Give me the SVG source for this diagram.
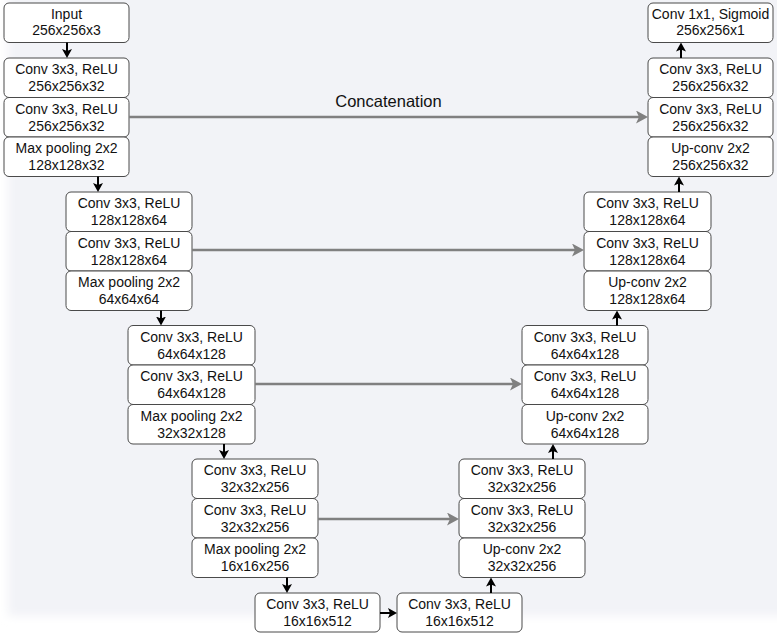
<svg xmlns="http://www.w3.org/2000/svg" width="777" height="635" viewBox="0 0 777 635">
<defs>
<filter id="soft" x="-5%" y="-5%" width="110%" height="110%"><feGaussianBlur stdDeviation="5"/></filter>
<marker id="ab" markerUnits="userSpaceOnUse" viewBox="0 0 9 10" markerWidth="9" markerHeight="10" refX="6" refY="5" orient="auto"><path d="M0,0 L9,5 L0,10 L2,5 z" fill="#000"/></marker>
<marker id="ag" markerUnits="userSpaceOnUse" viewBox="0 0 12 13" markerWidth="12" markerHeight="13" refX="8" refY="6.5" orient="auto"><path d="M0,0 L12,6.5 L0,13 L3,6.5 z" fill="#808080"/></marker>
</defs>
<style>
.b{fill:#fff;stroke:#4a4a4a;stroke-width:1}
text{font-family:"Liberation Sans",Arial,Helvetica,sans-serif;font-size:14px;fill:#111;text-anchor:middle}
.k{stroke:#000;stroke-width:2;fill:none;marker-end:url(#ab)}
.g{stroke:#808080;stroke-width:2.5;fill:none;marker-end:url(#ag)}
</style>
<rect width="777" height="635" fill="#fff"/>
<rect x="8" y="-20" width="790" height="636" fill="#f2f3f7" filter="url(#soft)"/>

<g id="input"><rect class="b" x="4" y="3" width="125" height="39.5" rx="5"/><text x="66.5" y="19">Input</text><text x="66.5" y="35">256x256x3</text></g>
<g id="enc1a"><rect class="b" x="4" y="58" width="125" height="39.5" rx="5"/><text x="66.5" y="74">Conv 3x3, ReLU</text><text x="66.5" y="91">256x256x32</text></g>
<g id="enc1b"><rect class="b" x="4" y="97.5" width="125" height="39.5" rx="5"/><text x="66.5" y="113.5">Conv 3x3, ReLU</text><text x="66.5" y="130.5">256x256x32</text></g>
<g id="pool1"><rect class="b" x="4" y="137" width="125" height="39.5" rx="5"/><text x="66.5" y="153">Max pooling 2x2</text><text x="66.5" y="170">128x128x32</text></g>

<g id="enc2a"><rect class="b" x="66" y="192" width="126" height="39.5" rx="5"/><text x="129" y="208">Conv 3x3, ReLU</text><text x="129" y="225">128x128x64</text></g>
<g id="enc2b"><rect class="b" x="66" y="231.5" width="126" height="39.5" rx="5"/><text x="129" y="247.5">Conv 3x3, ReLU</text><text x="129" y="264.5">128x128x64</text></g>
<g id="pool2"><rect class="b" x="66" y="271" width="126" height="39.5" rx="5"/><text x="129" y="287">Max pooling 2x2</text><text x="129" y="304">64x64x64</text></g>

<g id="enc3a"><rect class="b" x="128" y="325.5" width="127" height="39.5" rx="5"/><text x="191.5" y="341.5">Conv 3x3, ReLU</text><text x="191.5" y="358.5">64x64x128</text></g>
<g id="enc3b"><rect class="b" x="128" y="365" width="127" height="39.5" rx="5"/><text x="191.5" y="381">Conv 3x3, ReLU</text><text x="191.5" y="398">64x64x128</text></g>
<g id="pool3"><rect class="b" x="128" y="404.5" width="127" height="39.5" rx="5"/><text x="191.5" y="420.5">Max pooling 2x2</text><text x="191.5" y="437.5">32x32x128</text></g>

<g id="enc4a"><rect class="b" x="192" y="459" width="126" height="39.5" rx="5"/><text x="255" y="475">Conv 3x3, ReLU</text><text x="255" y="492">32x32x256</text></g>
<g id="enc4b"><rect class="b" x="192" y="498.5" width="126" height="39.5" rx="5"/><text x="255" y="514.5">Conv 3x3, ReLU</text><text x="255" y="531.5">32x32x256</text></g>
<g id="pool4"><rect class="b" x="192" y="538" width="126" height="39.5" rx="5"/><text x="255" y="554">Max pooling 2x2</text><text x="255" y="571">16x16x256</text></g>

<g id="bott1"><rect class="b" x="255" y="593" width="125" height="39" rx="5"/><text x="317.5" y="609">Conv 3x3, ReLU</text><text x="317.5" y="626">16x16x512</text></g>
<g id="bott2"><rect class="b" x="397" y="593" width="125" height="39" rx="5"/><text x="459.5" y="609">Conv 3x3, ReLU</text><text x="459.5" y="626">16x16x512</text></g>

<g id="dec4a"><rect class="b" x="459" y="459" width="126" height="39.5" rx="5"/><text x="522" y="475">Conv 3x3, ReLU</text><text x="522" y="492">32x32x256</text></g>
<g id="dec4b"><rect class="b" x="459" y="498.5" width="126" height="39.5" rx="5"/><text x="522" y="514.5">Conv 3x3, ReLU</text><text x="522" y="531.5">32x32x256</text></g>
<g id="up4"><rect class="b" x="459" y="538" width="126" height="39.5" rx="5"/><text x="522" y="554">Up-conv 2x2</text><text x="522" y="571">32x32x256</text></g>

<g id="dec3a"><rect class="b" x="522" y="325.5" width="126" height="39.5" rx="5"/><text x="585" y="341.5">Conv 3x3, ReLU</text><text x="585" y="358.5">64x64x128</text></g>
<g id="dec3b"><rect class="b" x="522" y="365" width="126" height="39.5" rx="5"/><text x="585" y="381">Conv 3x3, ReLU</text><text x="585" y="398">64x64x128</text></g>
<g id="up3"><rect class="b" x="522" y="404.5" width="126" height="39.5" rx="5"/><text x="585" y="420.5">Up-conv 2x2</text><text x="585" y="437.5">64x64x128</text></g>

<g id="dec2a"><rect class="b" x="584" y="192" width="127" height="39.5" rx="5"/><text x="647.5" y="208">Conv 3x3, ReLU</text><text x="647.5" y="225">128x128x64</text></g>
<g id="dec2b"><rect class="b" x="584" y="231.5" width="127" height="39.5" rx="5"/><text x="647.5" y="247.5">Conv 3x3, ReLU</text><text x="647.5" y="264.5">128x128x64</text></g>
<g id="up2"><rect class="b" x="584" y="271" width="127" height="39.5" rx="5"/><text x="647.5" y="287">Up-conv 2x2</text><text x="647.5" y="304">128x128x64</text></g>

<g id="output"><rect class="b" x="648" y="3" width="125" height="39.5" rx="5"/><text x="710.5" y="19">Conv 1x1, Sigmoid</text><text x="710.5" y="35">256x256x1</text></g>
<g id="dec1a"><rect class="b" x="648" y="58" width="125" height="39.5" rx="5"/><text x="710.5" y="74">Conv 3x3, ReLU</text><text x="710.5" y="91">256x256x32</text></g>
<g id="dec1b"><rect class="b" x="648" y="97.5" width="125" height="39.5" rx="5"/><text x="710.5" y="113.5">Conv 3x3, ReLU</text><text x="710.5" y="130.5">256x256x32</text></g>
<g id="up1"><rect class="b" x="648" y="137" width="125" height="39.5" rx="5"/><text x="710.5" y="153">Up-conv 2x2</text><text x="710.5" y="170">256x256x32</text></g>

<g id="connectors">
<line class="k" x1="67" y1="42.5" x2="67" y2="55"/>
<line class="k" x1="98" y1="176.5" x2="98" y2="189"/>
<line class="k" x1="161" y1="310.5" x2="161" y2="322.5"/>
<line class="k" x1="224" y1="444" x2="224" y2="456"/>
<line class="k" x1="287" y1="577.5" x2="287" y2="590"/>
<line class="k" x1="380" y1="613" x2="394" y2="613"/>
<line class="k" x1="491" y1="593" x2="491" y2="580.5"/>
<line class="k" x1="553" y1="459" x2="553" y2="447"/>
<line class="k" x1="617" y1="325.5" x2="617" y2="313.5"/>
<line class="k" x1="679" y1="192" x2="679" y2="179.5"/>
<line class="k" x1="681" y1="58" x2="681" y2="45.5"/>
<line class="g" x1="129" y1="117" x2="644" y2="117"/>
<line class="g" x1="192" y1="250" x2="580" y2="250"/>
<line class="g" x1="255" y1="384" x2="518" y2="384"/>
<line class="g" x1="318" y1="519" x2="455" y2="519"/>
<text x="388.5" y="107" style="font-size:16.5px">Concatenation</text>
</g>
</svg>
